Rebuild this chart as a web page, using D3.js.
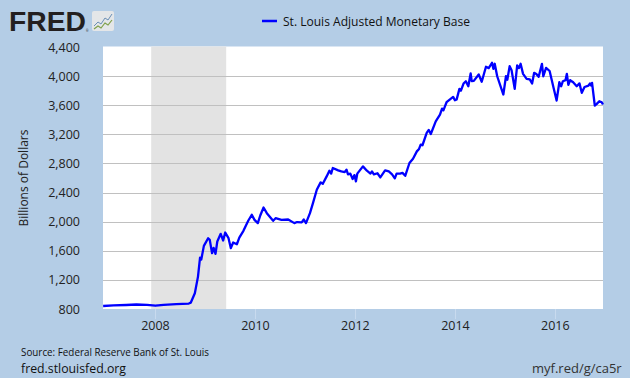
<!DOCTYPE html>
<html lang="en">
<head>
   <meta charset="UTF-8">
   <title>St. Louis Adjusted Monetary Base</title>
   <script src="https://cdn.jsdelivr.net/npm/d3@7"></script>
   <style>
       body { margin: 0; background: #b4cde6; }
       svg { display: block; font-family: "Open Sans", sans-serif; }
   </style>
</head>
<body>
   <svg width="630" height="378"></svg>

   <script>
       // data (billions of dollars)
       const dates = [
           "2006-12-15","2007-03-01","2007-06-01","2007-08-15","2007-11-01","2008-01-01","2008-03-01","2008-06-01",
           "2008-09-01","2008-09-15","2008-10-15","2008-11-07","2008-11-22","2008-12-01","2008-12-20","2009-01-20",
           "2009-02-01","2009-02-18","2009-03-01","2009-03-15","2009-03-28","2009-04-22","2009-05-10","2009-05-25",
           "2009-06-18","2009-07-05","2009-07-22","2009-08-18","2009-09-05","2009-10-05","2009-11-10","2009-12-05",
           "2009-12-25","2010-01-18","2010-02-05","2010-03-01","2010-03-25","2010-05-10","2010-05-28","2010-07-10",
           "2010-08-28","2010-10-12","2010-11-01","2010-12-05","2010-12-20","2011-01-05","2011-02-03","2011-02-25",
           "2011-03-25","2011-04-22","2011-05-08","2011-06-05","2011-06-25","2011-07-08","2011-07-20","2011-08-28",
           "2011-09-20","2011-10-15","2011-10-28","2011-11-08","2011-11-25","2011-12-12","2011-12-25","2012-01-05",
           "2012-01-15","2012-02-25","2012-03-25","2012-04-20","2012-05-01","2012-05-15","2012-06-10","2012-07-01",
           "2012-08-05","2012-09-01","2012-09-25","2012-10-15","2012-10-28","2012-11-22","2012-12-10","2012-12-30",
           "2013-01-30","2013-02-25","2013-03-25","2013-04-10","2013-04-22","2013-05-05","2013-06-05","2013-06-20",
           "2013-07-05","2013-08-10","2013-09-10","2013-09-25","2013-10-05","2013-10-28","2013-11-20","2013-12-15",
           "2013-12-28","2014-01-10","2014-01-30","2014-02-10","2014-03-01","2014-03-18","2014-04-05","2014-04-22",
           "2014-04-30","2014-05-15","2014-06-20","2014-07-12","2014-08-12","2014-09-01","2014-09-25","2014-10-05",
           "2014-10-15","2014-11-02","2014-12-17","2015-01-05","2015-01-15","2015-02-01","2015-02-15","2015-03-10",
           "2015-03-28","2015-04-10","2015-04-22","2015-05-10","2015-06-05","2015-06-28","2015-07-15","2015-07-30",
           "2015-08-15","2015-09-01","2015-09-25","2015-10-05","2015-10-25","2015-11-20","2015-12-05","2015-12-20",
           "2016-01-10","2016-01-30","2016-02-12","2016-02-25","2016-03-15","2016-03-25","2016-04-05","2016-04-18",
           "2016-05-10","2016-06-05","2016-06-25","2016-07-12","2016-08-01","2016-08-30","2016-09-10","2016-09-18",
           "2016-09-25","2016-10-15","2016-10-28","2016-11-17","2016-12-05","2016-12-14"
       ];
       const values = [
           841, 850, 855, 862, 858, 845, 858, 868,
           875, 887, 1016, 1245, 1507, 1480, 1667, 1773,
           1750, 1567, 1640, 1557, 1727, 1833, 1741, 1851,
           1773, 1636, 1713, 1690, 1782, 1874, 2016, 2094,
           2025, 1980, 2085, 2195, 2117, 2012, 2048, 2025,
           2030, 1980, 1995, 1990, 2030, 1980, 2117, 2255,
           2439, 2540, 2520, 2622, 2700, 2660, 2737, 2705,
           2690, 2680, 2715, 2650, 2660, 2586, 2640, 2553,
           2660, 2760, 2700, 2660, 2690, 2650, 2665, 2608,
           2705, 2690, 2650, 2595, 2660, 2660, 2670, 2630,
           2806, 2865, 2966, 3000, 3058, 3050, 3219, 3260,
           3205, 3379, 3471, 3554, 3530, 3641, 3678, 3715,
           3668, 3680, 3825, 3800, 3898, 3930, 3860, 4036,
           3930, 3935, 4022, 3922, 4128, 4110, 4183, 4100,
           4170, 3998, 3747, 3998, 3950, 4137, 4080, 3825,
           4146, 4110, 4169, 4031, 3963, 3955, 3898, 4045,
           4030, 3990, 4169, 3998, 4114, 4070, 3950, 3830,
           3664, 3916, 3860, 3930, 3944, 4031, 3880, 3944,
           3915, 3861, 3900, 3770, 3850, 3870, 3900, 3870,
           3907, 3596, 3615, 3655, 3640, 3610
       ];
       const recession = ["2007-12-01", "2009-06-01"];
       const yTicks = [800, 1200, 1600, 2000, 2400, 2800, 3200, 3600, 4000, 4400];
       const xTickYears = [2008, 2010, 2012, 2014, 2016];
       const seriesName = "St. Louis Adjusted Monetary Base";

       const parse = d3.timeParse("%Y-%m-%d");
       const data = dates.map((d, i) => ({ date: parse(d), value: values[i] }));

       const svg = d3.select("svg");
       const plot = { left: 103, right: 603, top: 47, bottom: 309 };

       const x = d3.scaleTime()
           .domain([parse("2006-12-14"), parse("2016-12-14")])
           .range([plot.left, plot.right]);
       const y = d3.scaleLinear()
           .domain([800, 4400])
           .range([plot.bottom, plot.top]);

       // background
       svg.append("rect").attr("width", 630).attr("height", 378).attr("fill", "#b4cde6");
       svg.append("rect")
           .attr("x", plot.left).attr("y", plot.top - 0.5)
           .attr("width", plot.right - plot.left).attr("height", plot.bottom - plot.top + 0.5)
           .attr("fill", "#ffffff");

       // recession shading
       svg.append("rect")
           .attr("x", x(parse(recession[0])))
           .attr("y", plot.top - 0.5)
           .attr("width", x(parse(recession[1])) - x(parse(recession[0])))
           .attr("height", plot.bottom - plot.top + 0.5)
           .attr("fill", "#e3e3e3");

       // gridlines
       svg.append("g")
           .selectAll("line")
           .data(yTicks.filter(v => v > 800 && v < 4400))
           .join("line")
           .attr("x1", plot.left).attr("x2", plot.right)
           .attr("y1", d => Math.round(y(d)) + 0.5).attr("y2", d => Math.round(y(d)) + 0.5)
           .attr("stroke", "#c0c0c0").attr("stroke-width", 1.2);

       // y tick labels
       svg.append("g")
           .selectAll("text")
           .data(yTicks)
           .join("text")
           .attr("x", 80).attr("y", d => y(d) + 4.5)
           .attr("text-anchor", "end")
           .attr("font-size", 12.5).attr("fill", "#222")
           .text(d => d3.format(",")(d));

       // x ticks + labels
       const xt = svg.append("g");
       xt.selectAll("line")
           .data(xTickYears)
           .join("line")
           .attr("x1", d => Math.round(x(new Date(d, 0, 1))) + 0.5)
           .attr("x2", d => Math.round(x(new Date(d, 0, 1))) + 0.5)
           .attr("y1", plot.bottom).attr("y2", plot.bottom + 10)
           .attr("stroke", "#c8daee").attr("stroke-width", 1);
       xt.selectAll("text")
           .data(xTickYears)
           .join("text")
           .attr("x", d => x(new Date(d, 0, 1)))
           .attr("y", 329.5)
           .attr("text-anchor", "middle")
           .attr("font-size", 12.5).attr("fill", "#222")
           .text(d => d);

       // y axis title
       svg.append("text")
           .attr("transform", "translate(27.5,178) rotate(-90)")
           .attr("text-anchor", "middle")
           .attr("font-size", 12).attr("fill", "#222")
           .text("Billions of Dollars");

       // series line
       const line = d3.line()
           .x(d => x(d.date))
           .y(d => y(d.value));
       svg.append("path")
           .datum(data)
           .attr("d", line)
           .attr("fill", "none")
           .attr("stroke", "#0000ff")
           .attr("stroke-width", 2.3)
           .attr("stroke-linejoin", "round");

       // legend
       svg.append("line")
           .attr("x1", 262).attr("x2", 277).attr("y1", 21).attr("y2", 21)
           .attr("stroke", "#0000ff").attr("stroke-width", 2.5);
       svg.append("text")
           .attr("x", 283).attr("y", 25.7)
           .attr("font-size", 13).attr("fill", "#111")
           .attr("textLength", 187).attr("lengthAdjust", "spacingAndGlyphs")
           .text(seriesName);

       // FRED logo
       svg.append("text")
           .attr("x", 9).attr("y", 31)
           .attr("font-family", "Liberation Sans, Arial, sans-serif")
           .attr("font-weight", "bold").attr("font-size", 28)
           .attr("fill", "#231f20")
           .attr("textLength", 77).attr("lengthAdjust", "spacingAndGlyphs")
           .text("FRED");
       svg.append("text")
           .attr("x", 86).attr("y", 31.5)
           .attr("font-size", 3).attr("fill", "#231f20")
           .text("®");
       const icon = svg.append("g").attr("transform", "translate(92,11)");
       icon.append("rect")
           .attr("width", 22).attr("height", 20).attr("rx", 2)
           .attr("fill", "#e4e6e8");
       icon.append("polyline")
           .attr("points", "2,15 6,11 9,13 13,7 16,9 20,3")
           .attr("fill", "none").attr("stroke", "#6b8fb5").attr("stroke-width", 1);
       icon.append("polyline")
           .attr("points", "2,18 6,15 9,17 13,12 16,14 20,9")
           .attr("fill", "none").attr("stroke", "#7fa04a").attr("stroke-width", 1.2);

       // footer
       svg.append("text")
           .attr("x", 21).attr("y", 355.7)
           .attr("font-size", 11.5).attr("fill", "#111")
           .attr("textLength", 188).attr("lengthAdjust", "spacingAndGlyphs")
           .text("Source: Federal Reserve Bank of St. Louis");
       svg.append("text")
           .attr("x", 21).attr("y", 373.3)
           .attr("font-size", 13).attr("fill", "#111")
           .attr("textLength", 105).attr("lengthAdjust", "spacingAndGlyphs")
           .text("fred.stlouisfed.org");
       svg.append("text")
           .attr("x", 621.7).attr("y", 372.7)
           .attr("text-anchor", "end")
           .attr("font-size", 13).attr("fill", "#333")
           .text("myf.red/g/ca5r");
   </script>
</body>
</html>
